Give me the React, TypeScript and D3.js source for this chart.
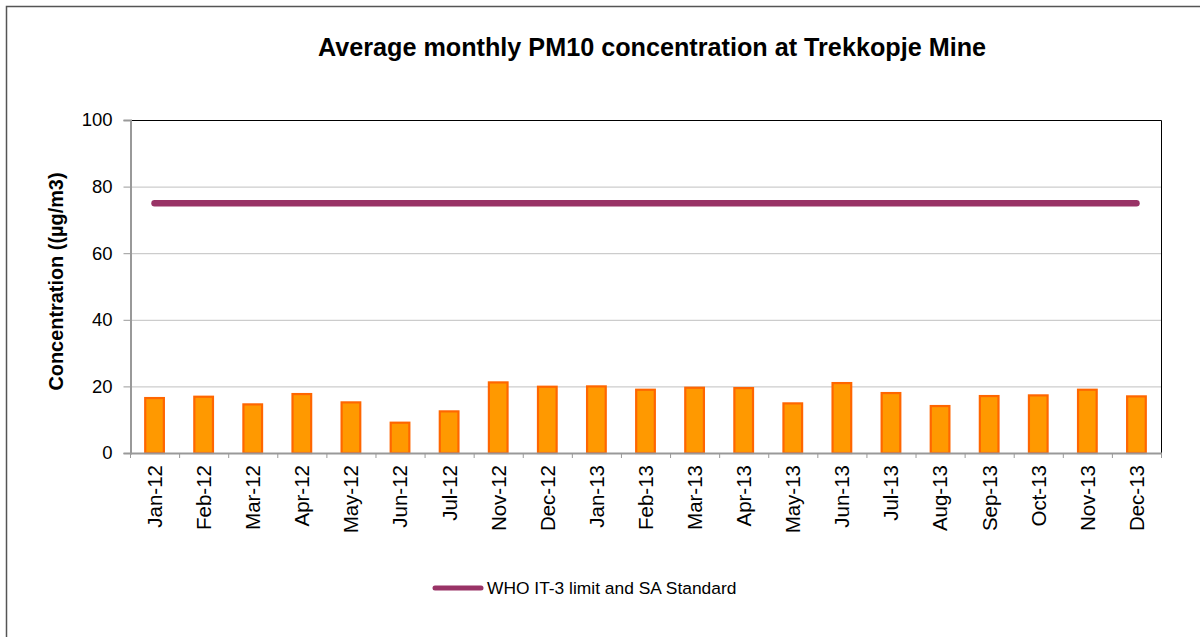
import React, { useRef, useEffect } from "react";
import * as d3 from "d3";

const months = [
  "Jan-12", "Feb-12", "Mar-12", "Apr-12", "May-12", "Jun-12", "Jul-12",
  "Nov-12", "Dec-12", "Jan-13", "Feb-13", "Mar-13", "Apr-13", "May-13",
  "Jun-13", "Jul-13", "Aug-13", "Sep-13", "Oct-13", "Nov-13", "Dec-13",
];
const pm10 = [
  16.5, 16.9, 14.6, 17.7, 15.2, 9.1, 12.5,
  21.2, 19.9, 20.0, 19.0, 19.6, 19.5, 14.9,
  21.0, 18.0, 14.1, 17.1, 17.3, 19.0, 17.0,
];
const whoLimit = [
  75, 75, 75, 75, 75, 75, 75,
  75, 75, 75, 75, 75, 75, 75,
  75, 75, 75, 75, 75, 75, 75,
];
const yTicks = [0, 20, 40, 60, 80, 100];

const title = "Average monthly PM10 concentration at Trekkopje Mine";
const yTitle = "Concentration ((µg/m3)";
const legendLabel = "WHO IT-3 limit and SA Standard";

export default function App() {
  const ref = useRef<SVGSVGElement>(null);
  const width = 1200;
  const height = 637;

  useEffect(() => {
    const svg = d3.select(ref.current);
    svg.selectAll("*").remove();

    const font = "Arial, 'Liberation Sans', sans-serif";
    const left = 130, right = 1161, top = 120, bottom = 453;

    const x = d3.scaleBand().domain(months).range([left, right]).padding(0);
    const y = d3.scaleLinear().domain([0, 100]).range([bottom, top]);

    svg.append("rect").attr("width", width).attr("height", height).attr("fill", "#fff");

    // outer chart border (only top and left fall inside the picture)
    svg.append("path")
      .attr("d", `M6.5,${height + 10} V6.5 H${width + 10}`)
      .attr("fill", "none")
      .attr("stroke", "#555")
      .attr("stroke-width", 1.5);

    // gridlines
    svg.append("g")
      .selectAll("line")
      .data(yTicks.filter(t => t > 0 && t < 100))
      .join("line")
      .attr("x1", left).attr("x2", right)
      .attr("y1", d => y(d) + 0.5).attr("y2", d => y(d) + 0.5)
      .attr("stroke", "#c0c0c0");

    // plot frame top/right
    svg.append("path")
      .attr("d", `M${left},${top + 0.5} H${right + 0.5} V${bottom}`)
      .attr("fill", "none")
      .attr("stroke", "#000");

    // bars
    const bw = x.bandwidth() * 0.38;
    svg.append("g")
      .selectAll("rect")
      .data(months)
      .join("rect")
      .attr("x", d => x(d)! + (x.bandwidth() - bw) / 2)
      .attr("y", (d, i) => y(pm10[i]))
      .attr("width", bw)
      .attr("height", (d, i) => bottom - y(pm10[i]))
      .attr("fill", "#ff9900")
      .attr("stroke", "#ff6600")
      .attr("stroke-width", 2.2);

    // y axis
    const yAxis = svg.append("g").attr("transform", `translate(${left + 0.5},0)`)
      .call(d3.axisLeft(y).tickValues(yTicks).tickSize(7).tickPadding(11).tickFormat(d3.format("d")));
    yAxis.select(".domain").attr("stroke", "#999").attr("stroke-width", 2);
    yAxis.selectAll(".tick line").attr("stroke", "#999").attr("stroke-width", 1);
    yAxis.selectAll("text").attr("font-family", font).attr("font-size", 18.5).attr("fill", "#000");

    // x axis: ticks at band boundaries
    svg.append("line")
      .attr("x1", left).attr("x2", right + 1)
      .attr("y1", bottom + 0.5).attr("y2", bottom + 0.5)
      .attr("stroke", "#999").attr("stroke-width", 2);
    svg.append("g")
      .selectAll("line")
      .data([...months.map(m => x(m)!), right])
      .join("line")
      .attr("x1", d => d + 0.5).attr("x2", d => d + 0.5)
      .attr("y1", bottom).attr("y2", bottom + 5)
      .attr("stroke", "#999");
    svg.append("g")
      .selectAll("text")
      .data(months)
      .join("text")
      .attr("transform", d => `translate(${x(d)! + x.bandwidth() / 2},${bottom + 12}) rotate(-90)`)
      .attr("text-anchor", "end")
      .attr("dy", "0.36em")
      .attr("font-family", font)
      .attr("font-size", 20.5)
      .text(d => d);

    // limit line
    const line = d3.line<number>()
      .x((d, i) => x(months[i])! + x.bandwidth() / 2)
      .y(d => y(d));
    svg.append("path")
      .datum(whoLimit)
      .attr("d", line)
      .attr("fill", "none")
      .attr("stroke", "#993366")
      .attr("stroke-width", 6.5)
      .attr("stroke-linecap", "round");

    // title
    svg.append("text")
      .attr("x", 652).attr("y", 56)
      .attr("text-anchor", "middle")
      .attr("font-family", font)
      .attr("font-weight", "bold")
      .attr("font-size", 25.2)
      .text(title);

    // y axis title
    svg.append("text")
      .attr("transform", `translate(63,${(top + bottom) / 2 - 5}) rotate(-90)`)
      .attr("text-anchor", "middle")
      .attr("font-family", font)
      .attr("font-weight", "bold")
      .attr("font-size", 19.9)
      .text(yTitle);

    // legend
    svg.append("line")
      .attr("x1", 435).attr("x2", 481)
      .attr("y1", 588).attr("y2", 588)
      .attr("stroke", "#993366")
      .attr("stroke-width", 5)
      .attr("stroke-linecap", "round");
    svg.append("text")
      .attr("x", 487).attr("y", 594)
      .attr("font-family", font)
      .attr("font-size", 17.4)
      .text(legendLabel);
  }, []);

  return (
    <svg
      ref={ref}
      width={width}
      height={height}
      style={{ position: "absolute", left: 0, top: 0, display: "block" }}
    ></svg>
  );
}
